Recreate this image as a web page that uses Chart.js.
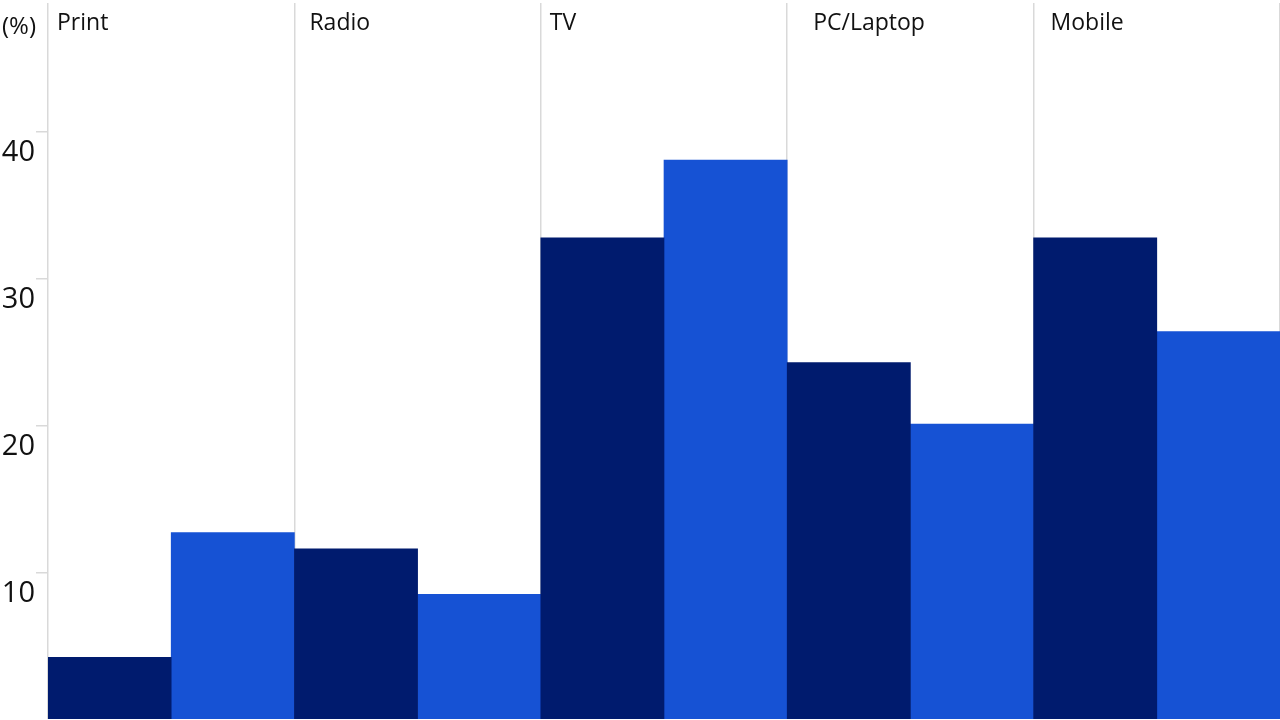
<!DOCTYPE html>
<html>
<head>
<meta charset="utf-8">
<script src="https://cdn.jsdelivr.net/npm/chart.js@4/dist/chart.umd.min.js"></script>
<style>
  html, body { margin: 0; padding: 0; background: #ffffff; }
  #wrap { width: 1280px; height: 720px; position: relative; }
</style>
</head>
<body>
<div id="wrap"><canvas id="c"></canvas></div>
<script>
const categories = ['Print', 'Radio', 'TV', 'PC/Laptop', 'Mobile'];
const seriesDark = [4.2, 11.6, 32.8, 24.3, 32.8];
const seriesBlue = [12.7, 8.5, 38.1, 20.1, 26.4];
const yTickValues = [10, 20, 30, 40];
const unitLabel = '(%)';

const FONT = '"Open Sans", "DejaVu Sans", sans-serif';

const overlayText = {
  id: 'overlayText',
  afterDraw(chart, args, opts) {
    const ctx = chart.ctx;
    const x = chart.scales.x;
    const area = chart.chartArea;
    ctx.save();
    ctx.fillStyle = '#111111';
    ctx.textBaseline = 'alphabetic';
    ctx.textAlign = 'left';
    ctx.font = '23px ' + FONT;
    const half = (x.getPixelForValue(1) - x.getPixelForValue(0)) / 2;
    categories.forEach((c, i) => {
      const left = x.getPixelForValue(i) - half;
      ctx.fillText(c, left + opts.offsets[i], 30);
    });
    ctx.textAlign = 'right';
    ctx.font = '24px ' + FONT;
    ctx.fillText(unitLabel, area.left - 12, 34);
    ctx.restore();
  }
};

new Chart(document.getElementById('c'), {
  type: 'bar',
  data: {
    labels: categories,
    datasets: [
      { data: seriesDark, backgroundColor: '#001b6e', borderWidth: 0 },
      { data: seriesBlue, backgroundColor: '#1652d4', borderWidth: 0 }
    ]
  },
  options: {
    responsive: true,
    maintainAspectRatio: false,
    animation: false,
    devicePixelRatio: 1,
    layout: { padding: { top: 3, right: 0, bottom: 0, left: 0 } },
    plugins: {
      legend: { display: false },
      tooltip: { enabled: false },
      overlayText: { offsets: [9, 15, 9, 26, 17] }
    },
    datasets: { bar: { categoryPercentage: 1.0, barPercentage: 1.0 } },
    scales: {
      x: {
        z: 1,
        offset: true,
        ticks: { display: false },
        border: { display: false },
        grid: { display: true, offset: true, drawTicks: false, color: '#d9d9d9', lineWidth: 1.5 },
        afterFit(scale) { scale.height = 1; scale.paddingLeft = 0; scale.paddingRight = 0; }
      },
      y: {
        min: 0,
        max: 48.8,
        border: { display: false },
        grid: { drawOnChartArea: false, drawTicks: true, tickLength: 12, color: '#d9d9d9', lineWidth: 1.5 },
        ticks: {
          stepSize: 10,
          padding: 1,
          labelOffset: 21,
          color: '#111111',
          font: { family: FONT, size: 29 }
        },
        afterBuildTicks(scale) {
          scale.ticks = yTickValues.map(v => ({ value: v }));
        },
        afterFit(scale) { scale.width = 48; scale.paddingTop = 0; scale.paddingBottom = 0; }
      }
    }
  },
  plugins: [overlayText]
});
</script>
</body>
</html>
